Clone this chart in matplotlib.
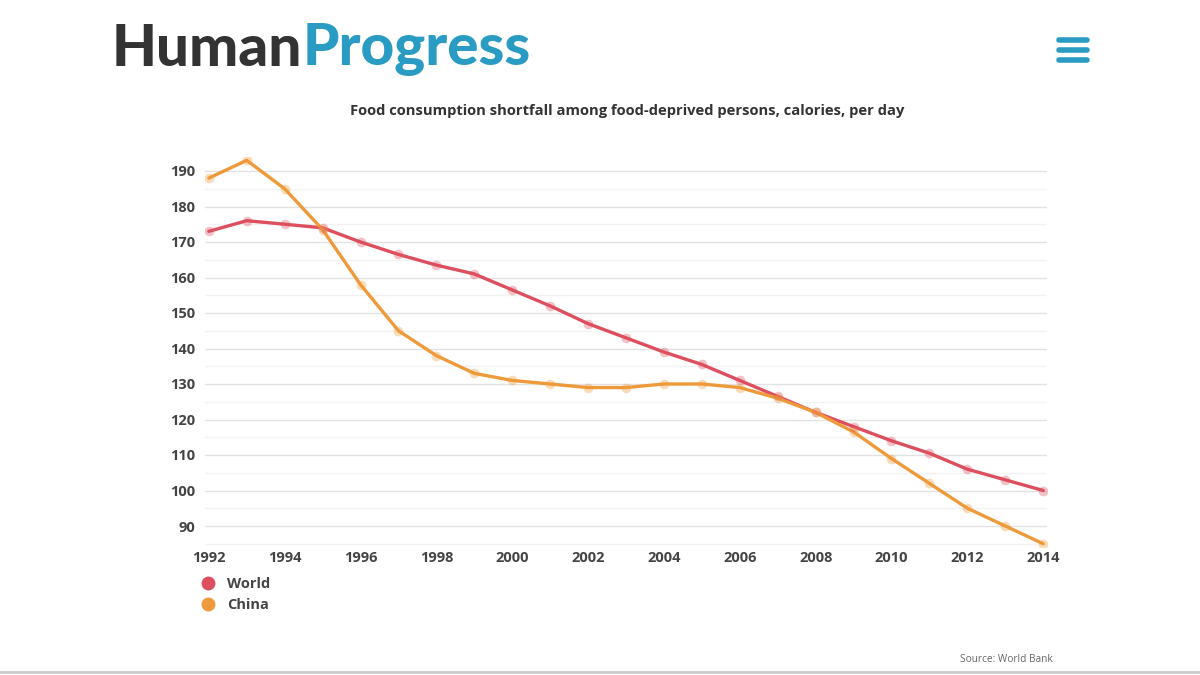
import matplotlib.pyplot as plt
from matplotlib.lines import Line2D
from matplotlib.ticker import MultipleLocator

years = list(range(1992, 2015))
world = [173, 176, 175, 174, 170, 166.5, 163.5, 161, 156.5, 152, 147, 143,
         139, 135.5, 131, 126.5, 122, 118, 114, 110.5, 106, 103, 100]
china = [188, 193, 185, 173.5, 158, 145, 138, 133, 131, 130, 129, 129,
         130, 130, 129, 126, 122, 116.5, 109, 102, 95, 90, 85]

world_color = '#dd4f5f'
china_color = '#ef9a3a'
blue = '#2a9bc3'

plt.rcParams['font.family'] = ['Open Sans', 'DejaVu Sans']

fig = plt.figure(figsize=(12, 6.75), dpi=100)
ax = fig.add_axes([205 / 1200, 1 - 547.3 / 675, 842 / 1200, 390.5 / 675])

for vals, col in [(world, world_color), (china, china_color)]:
    ax.plot(years, vals, color=col, lw=2.4, zorder=3, solid_capstyle='round')
    ax.plot(years, vals, 'o', ms=7, color=col, alpha=0.35, mec='none', zorder=4)

ax.set_xlim(1991.9, 2014.1)
ax.set_ylim(84, 194)
ax.xaxis.set_major_locator(MultipleLocator(2))
ax.yaxis.set_minor_locator(MultipleLocator(5))
ax.set_yticks(range(90, 200, 10))
ax.grid(axis='y', which='major', color='#e2e2e2', lw=1)
ax.grid(axis='y', which='minor', color='#f2f2f2', lw=1)
ax.set_axisbelow(True)
for s in ax.spines.values():
    s.set_visible(False)
ax.tick_params(axis='both', which='both', length=0, labelsize=10.5,
               labelcolor='#444444')
ax.tick_params(axis='y', pad=7)
ax.tick_params(axis='x', pad=3)
for lab in ax.get_xticklabels() + ax.get_yticklabels():
    lab.set_fontweight('bold')

fig.text(0.5225, 1 - 111 / 675, 'Food consumption shortfall among food-deprived persons, calories, per day',
         ha='center', va='center', fontsize=10.6, fontweight='bold', color='#333333')

handles = [Line2D([], [], ls='none', marker='o', ms=9, color=world_color),
           Line2D([], [], ls='none', marker='o', ms=9, color=china_color)]
leg = fig.legend(handles, ['World', 'China'], loc='upper left',
                 bbox_to_anchor=(186 / 1200, 1 - 564 / 675), frameon=False,
                 handletextpad=0.7, labelspacing=0.5, handlelength=1.2,
                 prop={'size': 10.5, 'weight': 'bold'})
for t in leg.get_texts():
    t.set_color('#444444')

# header logo
t1 = fig.text(112 / 1200, 1 - 50 / 675, 'Human', fontsize=42, fontweight='black',
              color='#333333', va='center', ha='left', family='Lato')
fig.canvas.draw()
bb = t1.get_window_extent()
fig.text(bb.x1 / 1200, 1 - 50 / 675, 'Progress', fontsize=42, fontweight='black',
         color=blue, va='center', ha='left', family='Lato')

for yy in [40, 50, 60]:
    fig.add_artist(Line2D([1059 / 1200, 1087 / 1200], [1 - yy / 675] * 2,
                          color=blue, lw=4, solid_capstyle='round'))

fig.text(1053 / 1200, 1 - 660 / 675, 'Source: World Bank', ha='right', va='center',
         fontsize=7.3, color='#666666')
fig.add_artist(Line2D([0, 1], [1 - 672 / 675] * 2, color='#cccccc', lw=2))

fig.savefig('out.png', dpi=100)
